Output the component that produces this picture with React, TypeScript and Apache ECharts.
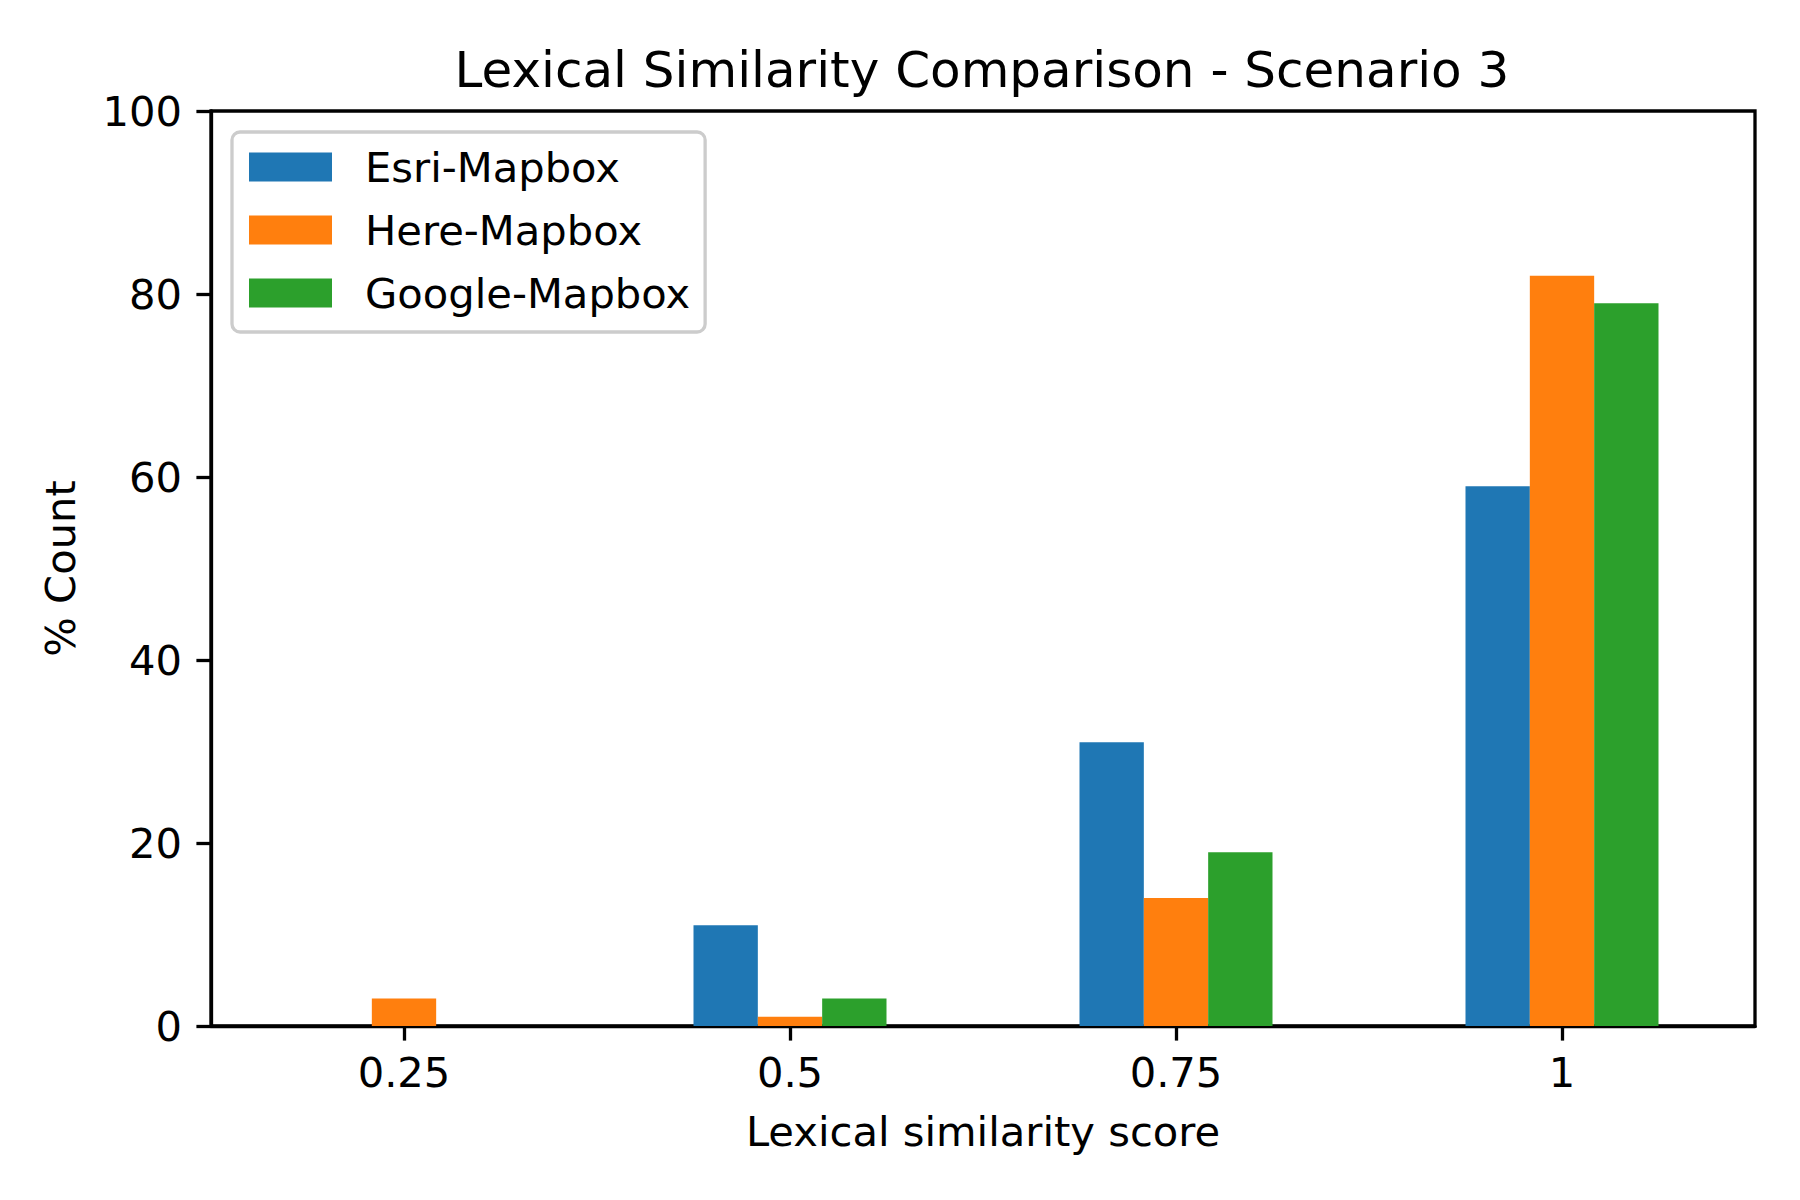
import React, { useEffect, useRef } from "react";
import * as echarts from "echarts";

const categories = ["0.25", "0.5", "0.75", "1"];
const seriesNames = ["Esri-Mapbox", "Here-Mapbox", "Google-Mapbox"];
const esriValues = [0, 11, 31, 59];
const hereValues = [3, 1, 14, 82];
const googleValues = [0, 3, 19, 79];
const colors = ["#1f77b4", "#ff7f0e", "#2ca02c"];
const yTicks = { min: 0, max: 100, interval: 20 };

const FONT = "DejaVu Sans";
const LW = 3.3;

export default function App() {
  const ref = useRef<HTMLDivElement>(null);
  useEffect(() => {
    if (!ref.current) return;
    const chart = echarts.init(ref.current, null, { renderer: "svg" });
    const data = [esriValues, hereValues, googleValues];
    chart.setOption({
      animation: false,
      backgroundColor: "#ffffff",
      textStyle: { fontFamily: FONT },
      title: {
        text: "Lexical Similarity Comparison - Scenario 3",
        left: 977,
        textAlign: "center",
        top: 40,
        textStyle: { fontFamily: FONT, fontSize: 50, fontWeight: "normal", color: "#000" },
      },
      legend: {
        orient: "vertical",
        left: 232,
        top: 132,
        padding: [14, 15, 18, 17],
        itemWidth: 83,
        itemHeight: 29,
        itemGap: 21,
        backgroundColor: "rgba(255,255,255,0.8)",
        borderColor: "#cccccc",
        borderWidth: LW,
        borderRadius: 8,
        icon: "rect",
        textStyle: {
          fontFamily: FONT,
          fontSize: 41.67,
          lineHeight: 42,
          color: "#000",
          padding: [0, 0, 0, 28],
        },
        data: seriesNames,
      },
      grid: {
        left: 211,
        top: 111,
        right: 45,
        bottom: 174,
        show: true,
        borderColor: "#000",
        borderWidth: LW,
        backgroundColor: "transparent",
      },
      xAxis: {
        type: "category",
        data: categories,
        boundaryGap: true,
        name: "Lexical similarity score",
        nameLocation: "middle",
        nameGap: 84,
        nameTextStyle: { fontFamily: FONT, fontSize: 41.67, color: "#000" },
        axisLine: { show: true, lineStyle: { color: "#000", width: LW } },
        axisTick: { show: true, alignWithLabel: true, interval: 0, length: 14.6, lineStyle: { color: "#000", width: LW } },
        axisLabel: { fontFamily: FONT, fontSize: 41.67, color: "#000", margin: 25, interval: 0 },
        splitLine: { show: false },
      },
      yAxis: {
        type: "value",
        min: yTicks.min,
        max: yTicks.max,
        interval: yTicks.interval,
        name: "% Count",
        nameLocation: "middle",
        nameGap: 130,
        nameRotate: 90,
        nameTextStyle: { fontFamily: FONT, fontSize: 41.67, color: "#000" },
        axisLine: { show: true, lineStyle: { color: "#000", width: LW } },
        axisTick: { show: true, length: 14.6, lineStyle: { color: "#000", width: LW } },
        axisLabel: { fontFamily: FONT, fontSize: 41.67, color: "#000", margin: 29 },
        splitLine: { show: false },
      },
      series: seriesNames.map((name, i) => ({
        name,
        type: "bar",
        data: data[i],
        barWidth: "16.667%",
        barGap: "0%",
        itemStyle: { color: colors[i] },
      })),
    });
    return () => chart.dispose();
  }, []);
  return (
    <div style={{ position: "fixed", left: 0, top: 0, width: 1800, height: 1200, background: "#fff" }}>
      <div ref={ref} style={{ width: 1800, height: 1200 }} />
    </div>
  );
}
